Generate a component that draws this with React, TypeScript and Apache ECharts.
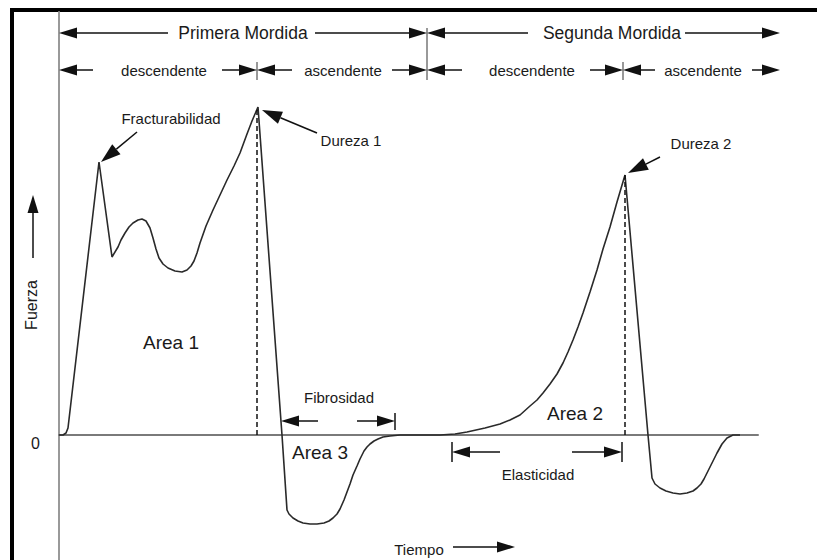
import React, { useEffect, useRef } from "react";
import * as echarts from "echarts";

// ---- main texture-profile curve (time vs force, arbitrary units) ----
const TIME = [0, 4, 7, 9, 40, 53, 59, 62, 66, 70, 74, 79, 83, 87, 91, 94, 97, 100, 104, 109, 116, 123, 128, 132, 135, 138, 141, 147, 154, 161, 168, 175, 181, 188, 193, 199, 223, 228, 230, 234, 239, 244, 251, 258, 265, 270, 274, 278, 281, 285, 288, 291, 294, 298, 301, 305, 308, 311, 315, 319, 324, 331, 341, 381, 396, 408, 426, 441, 451, 461, 471, 478, 484, 491, 498, 504, 509, 514, 519, 524, 531, 538, 544, 551, 558, 566, 589, 593, 596, 601, 607, 614, 621, 628, 634, 638, 642, 645, 648, 653, 658, 663, 668, 674, 681];
const FORCE = [0, 0, 2, 7, 273, 178, 188, 195, 202, 208, 212, 215, 216, 214, 207, 197, 186, 177, 171, 167, 164, 163, 165, 169, 174, 182, 192, 209, 225, 240, 255, 269, 282, 301, 314, 328, 0, -75, -79, -83, -86, -88, -89, -89, -88, -86, -83, -79, -74, -65, -57, -49, -40, -31, -24, -16, -12, -9, -6, -4, -2, -1, 0, 0, 1, 3, 7, 11, 15, 20, 29, 35, 42, 51, 61, 72, 83, 95, 108, 122, 143, 165, 186, 208, 233, 260, 0, -43, -49, -53, -56, -58, -59, -58, -56, -53, -49, -44, -38, -28, -18, -9, -3, 0, 0];

// peaks (Dureza 1, Dureza 2) marked with dashed drop lines
const PEAK_T = [198, 566];
const PEAK_F = [328, 260];

// axis
const X_MIN = 0, X_MAX = 699, Y_MIN = -125, Y_MAX = 423, Y_STEP = 125;
const Y_TICK_LABEL = "0";

// ---- annotations: dimension arrows [fromT, fromF, toT, toF] ----
const DIM_ARROWS = [
  [109, 402, 0, 402], [256, 402, 368, 402], [469, 402, 368, 402], [626, 402, 721, 402],
  [34, 365, 0, 365], [163, 365, 198, 365], [233, 365, 198, 365], [333, 365, 368, 365],
  [403, 365, 368, 365], [531, 365, 564, 365], [596, 365, 564, 365], [693, 365, 721, 365],
  [259, 14, 222, 14], [298, 14, 336, 14],
  [441, -17, 393, -17], [513, -17, 563, -17],
  [394, -112, 456, -112],
  [-26, 177, -26, 240],
];
const POINTER_ARROWS = [
  [78, 303, 42, 273],
  [258, 302, 203, 325],
  [601, 278, 569, 262],
];
// vertical ticks [t, f1, f2]
const TOP_TICKS = [[368, 407, 355], [198, 373, 355], [564, 373, 355]];
const LOW_TICKS = [[336, 22, 5], [393, -7, -27], [563, -7, -27]];

// ---- annotation texts ----
const TITLE_TEXT = ["Primera Mordida", "Segunda Mordida"];
const TITLE_T = [184, 553];
const TITLE_F = [402, 402];
const PHASE_TEXT = ["descendente", "ascendente", "descendente", "ascendente"];
const PHASE_T = [105, 284, 473, 644];
const PHASE_F = [365, 365, 365, 365];
const NOTE_TEXT = ["Fracturabilidad", "Dureza 1", "Dureza 2", "Fibrosidad", "Elasticidad", "Tiempo"];
const NOTE_T = [112, 292, 642, 280, 479, 360];
const NOTE_F = [317, 295, 292, 38, -39, -114];
const AREA_TEXT = ["Area 1", "Area 2", "Area 3"];
const AREA_T = [112, 516, 261];
const AREA_F = [93, 22, -17];
const Y_NAME = "Fuerza";
const Y_NAME_T = -28;
const Y_NAME_F = 130;

const FONT = "'Liberation Sans', Arial, Helvetica, sans-serif";
const INK = "#1a1a1a";

function arrowSeries(name: string, data: number[][], headLen: number, headHalf: number) {
  return {
    type: "custom",
    name,
    silent: true,
    data,
    renderItem: (params: any, api: any) => {
      const p1 = api.coord([api.value(0), api.value(1)]);
      const p2 = api.coord([api.value(2), api.value(3)]);
      const dx = p2[0] - p1[0];
      const dy = p2[1] - p1[1];
      const len = Math.sqrt(dx * dx + dy * dy) || 1;
      const ux = dx / len, uy = dy / len;
      const bx = p2[0] - ux * headLen, by = p2[1] - uy * headLen;
      const px = -uy * headHalf, py = ux * headHalf;
      return {
        type: "group",
        children: [
          { type: "line", shape: { x1: p1[0], y1: p1[1], x2: bx, y2: by }, style: { stroke: "#111", lineWidth: 1.5 } },
          { type: "polygon", shape: { points: [[p2[0], p2[1]], [bx + px, by + py], [bx - px, by - py]] }, style: { fill: "#111" } },
        ],
      };
    },
  };
}

function tickSeries(name: string, data: number[][], color: string) {
  return {
    type: "custom",
    name,
    silent: true,
    data,
    renderItem: (params: any, api: any) => {
      const a = api.coord([api.value(0), api.value(1)]);
      const b = api.coord([api.value(0), api.value(2)]);
      return { type: "line", shape: { x1: a[0], y1: a[1], x2: b[0], y2: b[1] }, style: { stroke: color, lineWidth: 1.5 } };
    },
  };
}

function textSeries(name: string, texts: string[], ts: number[], fs: number[], fontSize: number, rotation = 0) {
  return {
    type: "custom",
    name,
    silent: true,
    data: ts.map((t, i) => [t, fs[i]]),
    renderItem: (params: any, api: any) => {
      const p = api.coord([api.value(0), api.value(1)]);
      return {
        type: "text",
        x: p[0],
        y: p[1],
        rotation,
        style: {
          text: texts[params.dataIndex],
          fontSize,
          fontFamily: FONT,
          fill: INK,
          align: "center",
          verticalAlign: "middle",
        },
      };
    },
  };
}

export default function App() {
  const ref = useRef<HTMLDivElement>(null);

  useEffect(() => {
    if (!ref.current) return;
    const chart = echarts.init(ref.current, null, { renderer: "svg" });
    const curve = TIME.map((t, i) => [t, FORCE[i]]);
    chart.setOption({
      animation: false,
      backgroundColor: "#fff",
      grid: { left: 59, right: 59, top: 12, bottom: 0, containLabel: false },
      graphic: [
        {
          type: "rect",
          shape: { x: 12, y: 10, width: 900, height: 700 },
          style: { fill: "none", stroke: "#000", lineWidth: 4 },
          silent: true,
        },
      ],
      xAxis: {
        type: "value",
        min: X_MIN,
        max: X_MAX,
        axisLine: { show: true, onZero: true, lineStyle: { color: "#7a7a7a", width: 2 } },
        axisTick: { show: false },
        axisLabel: { show: false },
        splitLine: { show: false },
      },
      yAxis: {
        type: "value",
        min: Y_MIN,
        max: Y_MAX,
        interval: Y_STEP,
        axisLine: { show: true, lineStyle: { color: "#999", width: 2 } },
        axisTick: { show: false },
        splitLine: { show: false },
        axisLabel: {
          show: true,
          formatter: (v: number) => (v === 0 ? Y_TICK_LABEL : ""),
          fontSize: 16,
          fontFamily: FONT,
          color: INK,
          margin: 19,
          verticalAlign: "top",
        },
      },
      series: [
        {
          type: "line",
          name: "Fuerza",
          data: curve,
          symbol: "none",
          smooth: false,
          lineStyle: { color: "#2a2a2a", width: 1.6 },
          markLine: {
            silent: true,
            symbol: ["none", "none"],
            label: { show: false },
            lineStyle: { type: [5, 3], color: "#111", width: 1.5 },
            data: PEAK_T.map((t, i) => [{ coord: [t, 0] }, { coord: [t, PEAK_F[i]] }]),
          },
        },
        tickSeries("ticksTop", TOP_TICKS, "#777"),
        tickSeries("ticksLow", LOW_TICKS, "#111"),
        arrowSeries("dimArrows", DIM_ARROWS, 18, 5.5),
        arrowSeries("pointers", POINTER_ARROWS, 20, 6.5),
        textSeries("titles", TITLE_TEXT, TITLE_T, TITLE_F, 17.5),
        textSeries("phases", PHASE_TEXT, PHASE_T, PHASE_F, 15),
        textSeries("notes", NOTE_TEXT, NOTE_T, NOTE_F, 15),
        textSeries("areas", AREA_TEXT, AREA_T, AREA_F, 19),
        textSeries("yname", [Y_NAME], [Y_NAME_T], [Y_NAME_F], 16, Math.PI / 2),
      ],
    });
    return () => chart.dispose();
  }, []);

  return (
    <div
      ref={ref}
      style={{ position: "absolute", left: 0, top: 0, width: 817, height: 560, background: "#fff" }}
    />
  );
}
